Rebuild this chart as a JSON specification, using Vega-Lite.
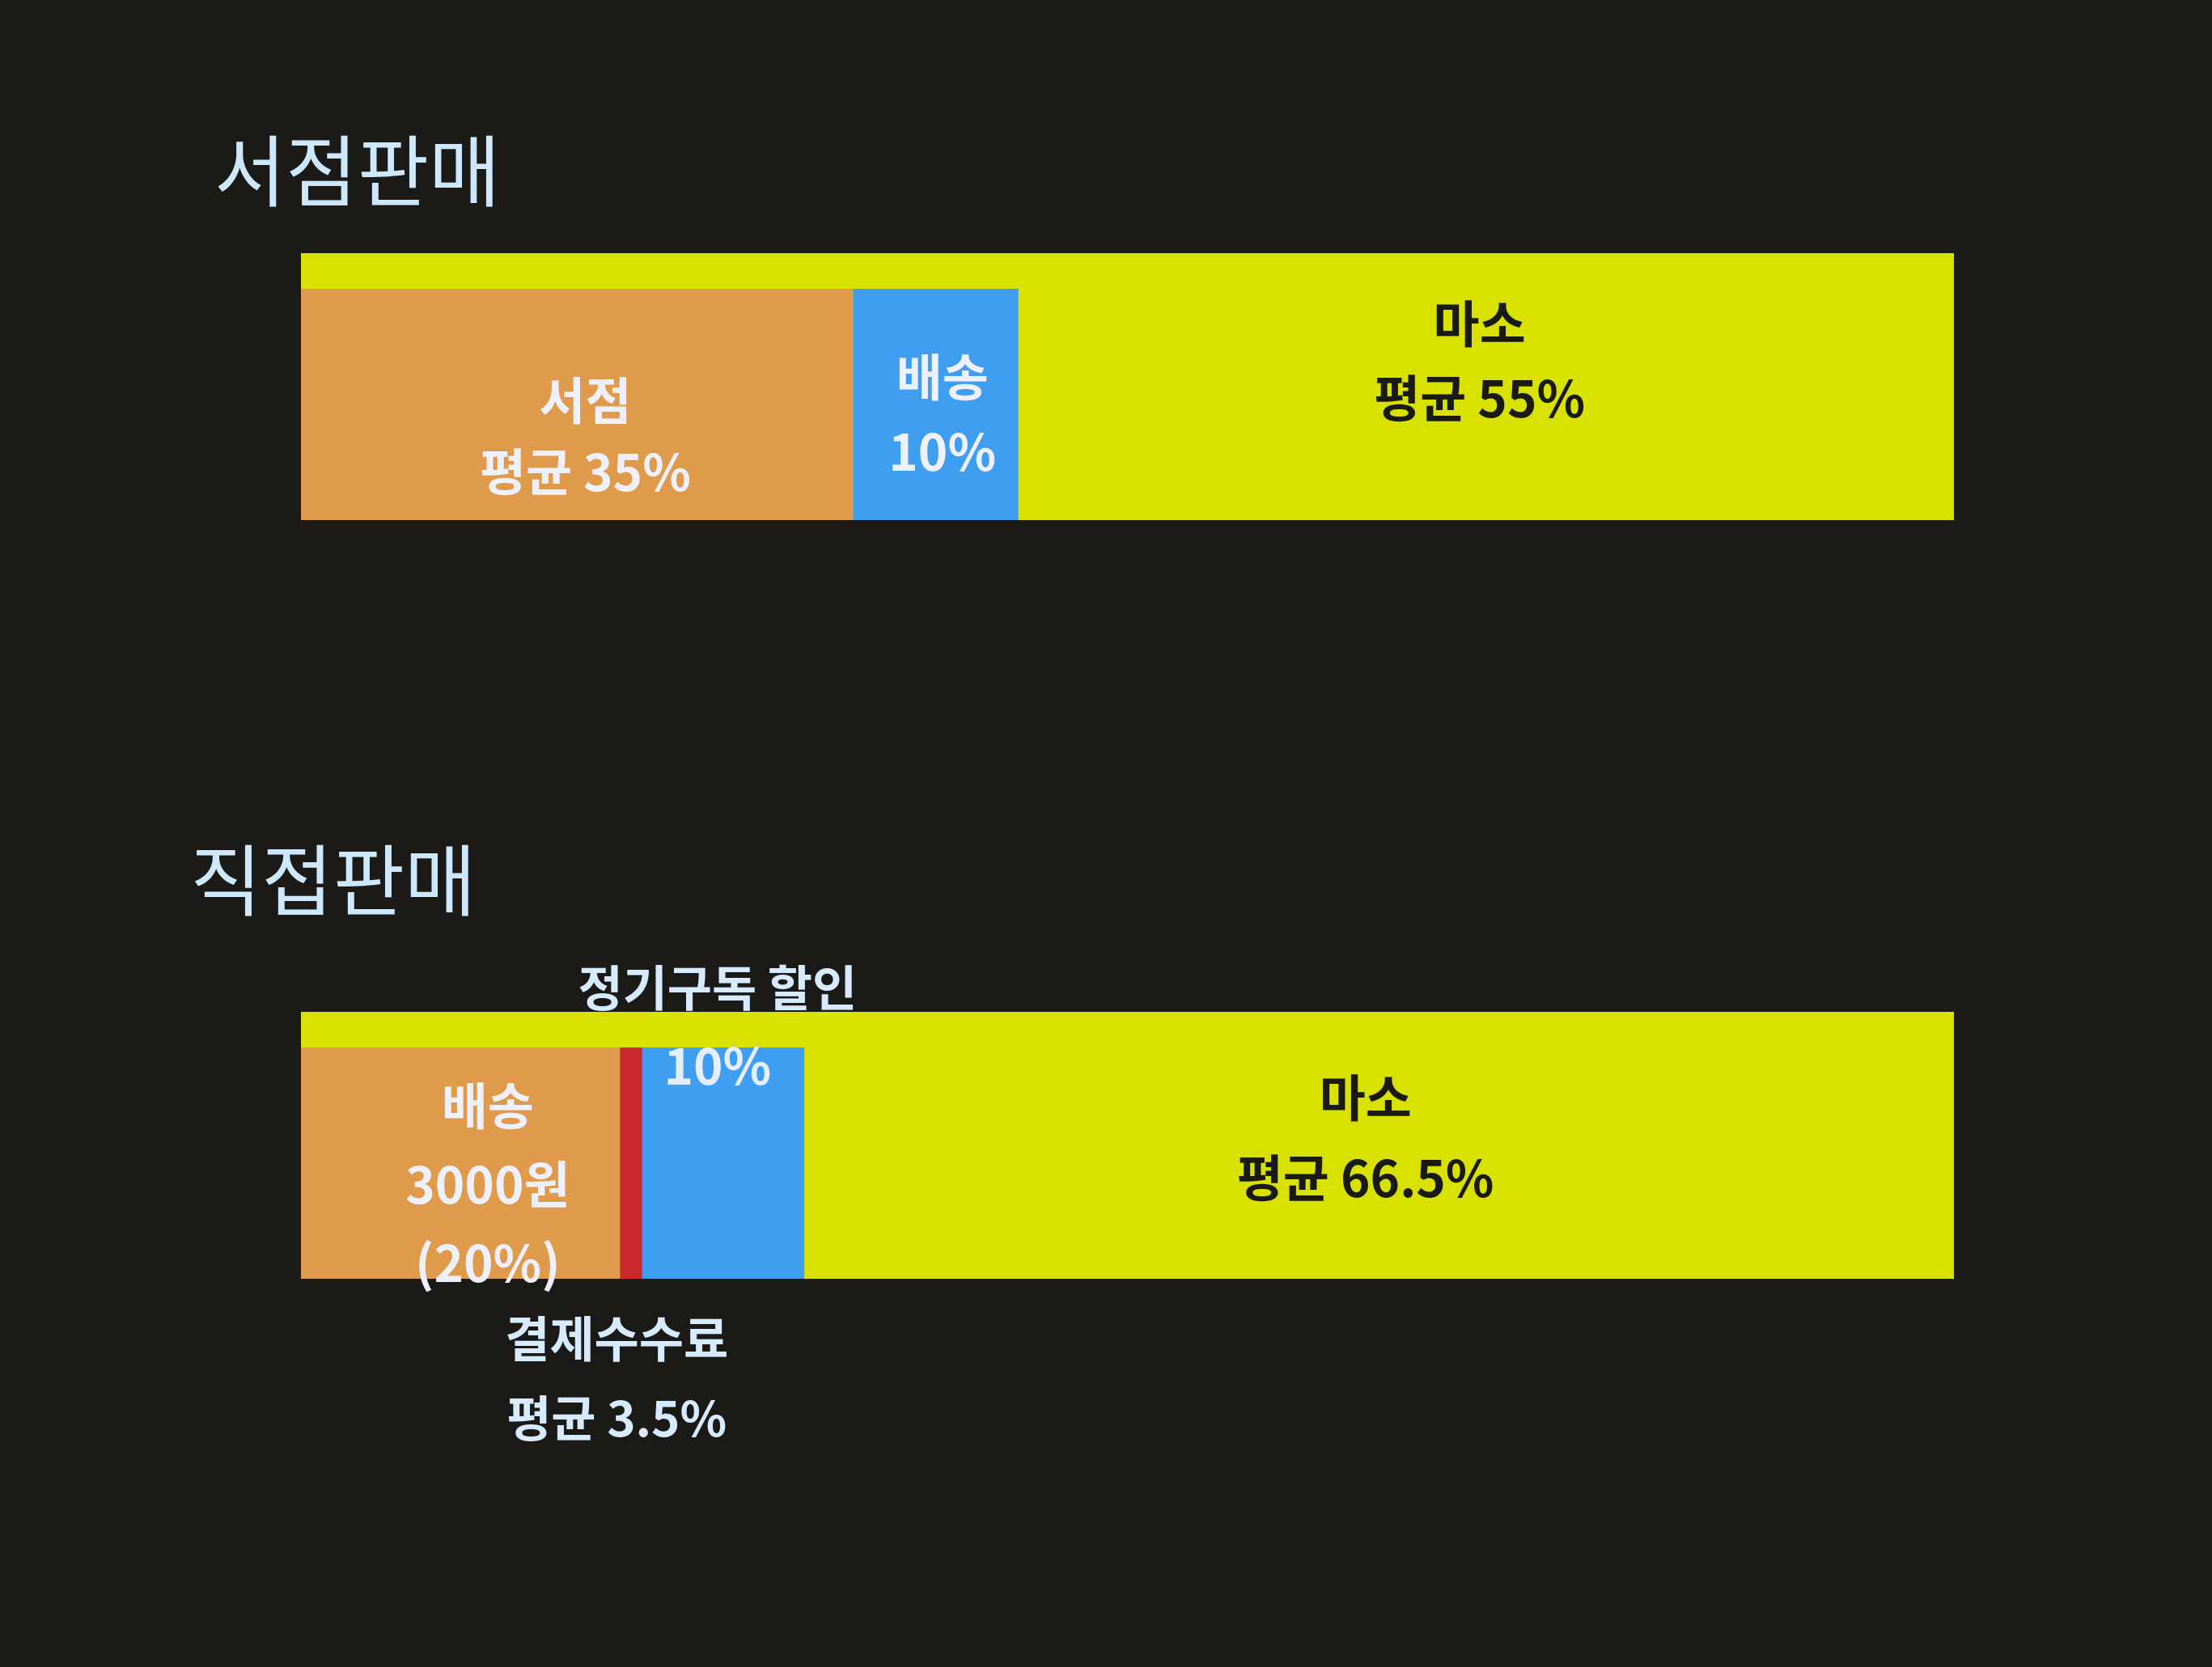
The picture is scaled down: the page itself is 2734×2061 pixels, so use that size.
{
  "$schema": "https://vega.github.io/schema/vega-lite/v6.json",
  "background": "#1c1a17",
  "width": 2043,
  "height": 2061,
  "padding": {"left": 372, "right": 319, "top": 0, "bottom": 0},
  "autosize": {"type": "none"},
  "config": {"view": {"stroke": null}, "font": "Noto Sans CJK KR"},
  "datasets": {
    "segments": [
      {"row": "서점판매", "item": "마소", "start": 0, "end": 100, "base": true},
      {"row": "서점판매", "item": "서점", "start": 0, "end": 33.4, "base": false},
      {"row": "서점판매", "item": "배송", "start": 33.4, "end": 43.4, "base": false},
      {"row": "직접판매", "item": "마소", "start": 0, "end": 100, "base": true},
      {"row": "직접판매", "item": "배송비", "start": 0, "end": 19.3, "base": false},
      {"row": "직접판매", "item": "결제수수료", "start": 19.3, "end": 20.65, "base": false},
      {"row": "직접판매", "item": "정기구독 할인", "start": 20.65, "end": 30.45, "base": false}
    ]
  },
  "encoding": {
    "y": {
      "field": "row",
      "type": "nominal",
      "scale": {"domain": ["서점판매", "직접판매"], "range": [9, 1885], "paddingInner": 0, "paddingOuter": 0},
      "axis": null
    }
  },
  "layer": [
    {
      "data": {"name": "segments"},
      "transform": [{"filter": "datum.base"}],
      "mark": {"type": "bar", "size": 330},
      "encoding": {
        "x": {"field": "start", "type": "quantitative", "scale": {"domain": [0, 100]}, "axis": null},
        "x2": {"field": "end"},
        "color": {
          "field": "item",
          "scale": {
            "domain": ["마소", "서점", "배송", "배송비", "결제수수료", "정기구독 할인"],
            "range": ["#d9e100", "#e09a4c", "#3f9ef0", "#e09a4c", "#c8282e", "#3f9ef0"]
          },
          "legend": null
        }
      }
    },
    {
      "data": {"name": "segments"},
      "transform": [{"filter": "!datum.base"}],
      "mark": {"type": "bar", "size": 286, "yOffset": 22},
      "encoding": {
        "x": {"field": "start", "type": "quantitative", "scale": {"domain": [0, 100]}, "axis": null},
        "x2": {"field": "end"},
        "color": {"field": "item", "legend": null}
      }
    },
    {
      "data": {"values": [{"row": "서점판매"}]},
      "mark": {"type": "text", "align": "left", "baseline": "middle", "dx": -107, "dy": -260, "fontSize": 96, "fill": "#cde7fb"},
      "encoding": {"x": {"datum": 0, "type": "quantitative"}, "text": {"field": "row"}}
    },
    {
      "data": {"values": [{"row": "직접판매"}]},
      "mark": {"type": "text", "align": "left", "baseline": "middle", "dx": -137, "dy": -321, "fontSize": 96, "fill": "#cde7fb"},
      "encoding": {"x": {"datum": 0, "type": "quantitative"}, "text": {"field": "row"}}
    },
    {
      "data": {"values": [{"row": "서점판매", "mid": 17.2, "label": "서점\n평균 35%"}]},
      "mark": {"type": "text", "lineBreak": "\n", "lineHeight": 88, "baseline": "middle", "dy": 22, "fontSize": 62, "fontWeight": "bold", "fill": "#eef0fb"},
      "encoding": {"x": {"field": "mid", "type": "quantitative"}, "text": {"field": "label"}}
    },
    {
      "data": {"values": [{"row": "서점판매", "mid": 38.8, "label": "배송\n10%"}]},
      "mark": {"type": "text", "lineBreak": "\n", "lineHeight": 92, "baseline": "middle", "dy": -7, "fontSize": 62, "fontWeight": "bold", "fill": "#eef0fb"},
      "encoding": {"x": {"field": "mid", "type": "quantitative"}, "text": {"field": "label"}}
    },
    {
      "data": {"values": [{"row": "서점판매", "mid": 71.3, "label": "마소\n평균 55%"}]},
      "mark": {"type": "text", "lineBreak": "\n", "lineHeight": 92, "baseline": "middle", "dy": -73, "fontSize": 62, "fontWeight": "bold", "fill": "#1a1a14"},
      "encoding": {"x": {"field": "mid", "type": "quantitative"}, "text": {"field": "label"}}
    },
    {
      "data": {"values": [{"row": "직접판매", "mid": 11.3, "label": "배송\n3000원\n(20%)"}]},
      "mark": {"type": "text", "lineBreak": "\n", "lineHeight": 97, "baseline": "middle", "dy": -44, "fontSize": 62, "fontWeight": "bold", "fill": "#eef0fb"},
      "encoding": {"x": {"field": "mid", "type": "quantitative"}, "text": {"field": "label"}}
    },
    {
      "data": {"values": [{"row": "직접판매", "mid": 25.2, "label": "정기구독 할인"}]},
      "mark": {"type": "text", "baseline": "middle", "dy": -190, "fontSize": 60, "fontWeight": "bold", "fill": "#d6ebff"},
      "encoding": {"x": {"field": "mid", "type": "quantitative"}, "text": {"field": "label"}}
    },
    {
      "data": {"values": [{"row": "직접판매", "mid": 25.2, "label": "10%"}]},
      "mark": {"type": "text", "baseline": "middle", "dy": -94, "fontSize": 62, "fontWeight": "bold", "fill": "#e4eefc"},
      "encoding": {"x": {"field": "mid", "type": "quantitative"}, "text": {"field": "label"}}
    },
    {
      "data": {"values": [{"row": "직접판매", "mid": 19.1, "label": "결제수수료\n평균 3.5%"}]},
      "mark": {"type": "text", "lineBreak": "\n", "lineHeight": 98, "baseline": "middle", "dy": 244, "fontSize": 60, "fontWeight": "bold", "fill": "#d6ebff"},
      "encoding": {"x": {"field": "mid", "type": "quantitative"}, "text": {"field": "label"}}
    },
    {
      "data": {"values": [{"row": "직접판매", "mid": 64.4, "label": "마소\n평균 66.5%"}]},
      "mark": {"type": "text", "lineBreak": "\n", "lineHeight": 99, "baseline": "middle", "dy": -54, "fontSize": 62, "fontWeight": "bold", "fill": "#1a1a14"},
      "encoding": {"x": {"field": "mid", "type": "quantitative"}, "text": {"field": "label"}}
    }
  ]
}
